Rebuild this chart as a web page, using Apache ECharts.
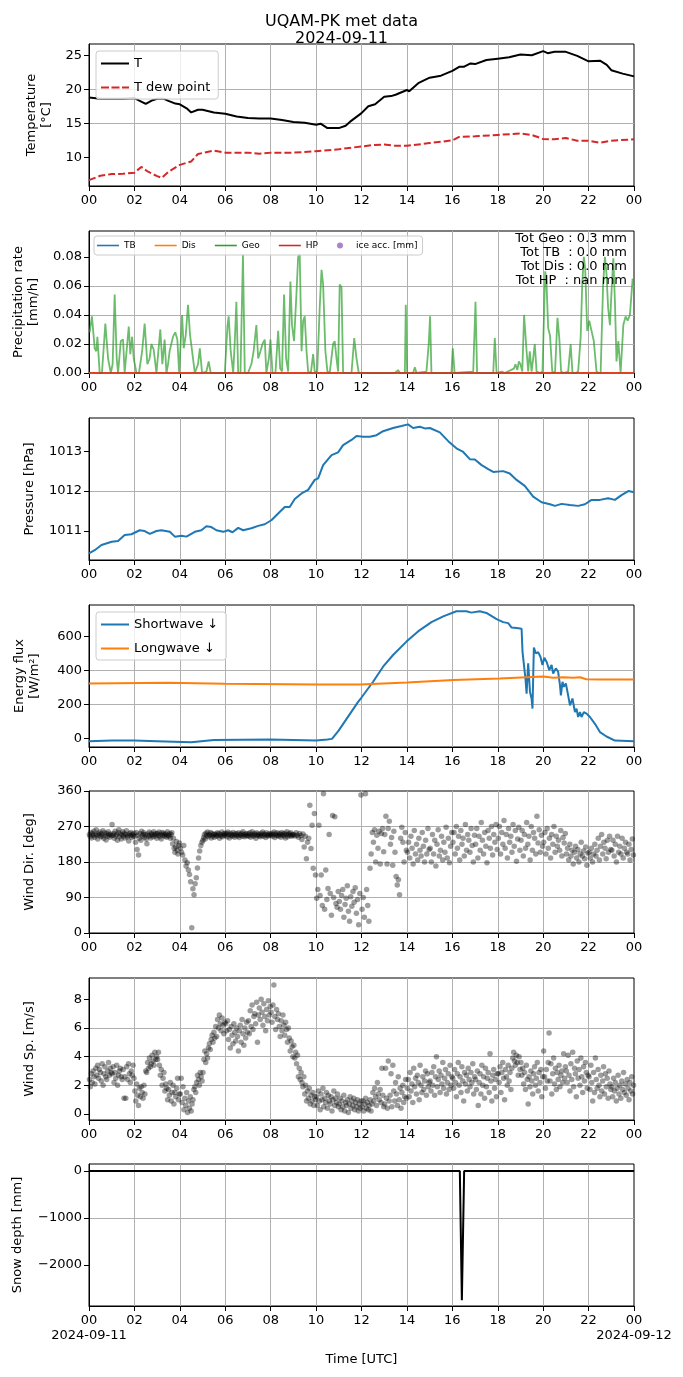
<!DOCTYPE html>
<html>
<head>
<meta charset="utf-8">
<title>UQAM-PK met data</title>
<script src="https://cdn.jsdelivr.net/npm/echarts@6/dist/echarts.min.js"></script>
<style>
  html, body { margin: 0; padding: 0; background: #fff; }
  #chart { width: 683px; height: 1377px; }
</style>
</head>
<body>
<div id="chart"></div>
<script>
// ---- data (hours UTC since 2024-09-11 00:00) ----
var dateLabels = ['2024-09-11', '2024-09-12'];
var dateHours = [0, 24];

// air temperature / dew point [degC]
var tHours = [0,0.5,1,1.5,2,2.3,2.5,2.8,3,3.3,3.5,3.8,4,4.3,4.5,4.8,5,5.5,6,6.5,7,7.5,8,8.5,9,9.5,10,10.2,10.5,11,11.3,11.5,12,12.3,12.6,13,13.3,13.5,14,14.1,14.5,15,15.5,16,16.3,16.5,16.8,17,17.5,18,18.5,19,19.5,20,20.2,20.5,21,21.5,22,22.5,22.8,23,23.5,24];
var tAir = [18.8,18.6,18.6,18.6,18.7,18.2,17.85,18.4,18.6,18.6,18.3,17.9,17.8,17.2,16.6,17.0,17.0,16.6,16.4,16.0,15.8,15.7,15.7,15.5,15.2,15.1,14.8,14.95,14.3,14.3,14.65,15.25,16.5,17.5,17.8,18.9,19.0,19.2,19.9,19.7,20.9,21.7,22.0,22.7,23.3,23.3,23.8,23.7,24.3,24.5,24.7,25.1,25.0,25.6,25.3,25.5,25.5,24.9,24.1,24.2,23.6,22.8,22.3,21.9];
var dewHours = [0,0.5,1,1.5,2,2.3,2.6,3,3.2,3.5,4,4.5,4.8,5.5,6,7,7.5,8,9,10,11,12,12.5,13,13.5,14,15,16,16.3,17,18,19,19.5,20,20.5,21,21.5,22,22.5,23,24];
var tDew = [6.67,7.3,7.55,7.6,7.75,8.6,7.9,7.25,7.0,7.9,8.9,9.4,10.5,11.0,10.7,10.7,10.55,10.7,10.7,10.9,11.2,11.6,11.8,11.9,11.7,11.7,12.1,12.5,13.0,13.1,13.3,13.5,13.3,12.7,12.65,12.85,12.45,12.45,12.15,12.45,12.65];

// precipitation rate [mm/h]
var geoHours = [0.03,0.13,0.25,0.32,0.37,0.47,0.57,0.72,0.84,0.96,1.04,1.13,1.22,1.28,1.40,1.50,1.57,1.65,1.75,1.82,1.90,1.97,2.09,2.20,2.34,2.45,2.57,2.67,2.75,2.85,2.97,3.04,3.14,3.23,3.33,3.41,3.48,3.55,3.70,3.80,3.89,3.97,4.10,4.17,4.26,4.36,4.45,4.54,4.66,4.80,4.88,4.98,5.17,5.27,5.36,5.98,6.10,6.15,6.24,6.35,6.42,6.49,6.57,6.67,6.78,6.86,7.00,7.15,7.25,7.37,7.45,7.55,7.64,7.74,7.81,7.92,7.99,8.08,8.21,8.33,8.42,8.50,8.59,8.68,8.77,8.87,8.94,9.03,9.14,9.21,9.28,9.36,9.43,9.50,9.58,9.65,9.77,9.87,9.94,10.05,10.16,10.24,10.31,10.41,10.50,10.60,10.75,10.82,10.90,10.97,11.04,11.12,11.19,11.34,11.56,11.68,11.78,11.88,
  13.47,13.54,13.61,13.69,13.91,13.95,14.01,14.27,14.35,14.42,14.86,14.96,15.02,15.08,15.96,16.02,16.10,16.92,17.02,17.09,17.80,17.87,17.95,18.17,18.24,18.31,18.71,18.78,18.86,18.93,19.00,19.08,19.16,19.27,19.34,19.41,19.49,19.56,19.63,19.71,19.87,19.97,20.09,20.15,20.22,20.30,20.40,20.52,20.63,20.71,20.79,20.91,21.10,21.21,21.29,21.44,21.54,21.65,21.72,21.79,21.85,21.94,22.03,22.13,22.23,22.35,22.44,22.53,22.64,22.72,22.79,22.86,22.94,23.01,23.09,23.16,23.23,23.31,23.41,23.53,23.63,23.72,23.82,23.94];
var geoRate = [0.028,0.039,0.017,0.015,0.025,0,0,0.034,0.010,0,0.006,0.054,0.010,0,0.022,0.023,0,0.001,0.032,0.013,0.025,0.010,0,0,0.015,0.034,0.006,0.010,0.020,0.016,0,0.001,0.030,0.006,0.023,0,0.006,0.015,0.025,0.028,0.023,0,0.040,0.017,0.026,0.047,0.026,0.015,0,0.006,0.017,0,0.001,0.008,0,0,0.033,0.039,0.015,0,0.022,0.049,0,0,0.082,0,0,0.006,0.015,0.033,0.010,0.015,0.020,0.023,0,0.010,0.023,0,0,0.029,0.003,0.001,0.054,0.010,0.001,0.063,0.033,0.022,0.056,0.080,0.082,0.015,0.036,0.039,0.015,0.001,0,0.013,0.001,0.001,0.045,0.071,0.061,0.015,0.001,0,0.020,0.022,0.010,0.001,0.061,0.059,0,0,0,0.024,0.010,0,
  0,0.001,0.002,0,0,0.047,0,0,0.004,0,0.001,0.020,0.039,0,0,0.017,0,0.001,0.049,0,0,0.024,0,0.001,0.002,0,0.003,0.006,0.002,0.008,0.006,0.001,0.040,0.015,0.001,0.015,0.001,0.010,0.020,0.001,0,0.001,0.070,0.061,0.031,0.026,0.001,0,0.038,0.024,0.001,0,0.001,0.020,0,0,0.001,0.024,0.061,0.080,0.072,0.029,0.036,0.029,0.022,0.001,0,0,0.061,0.080,0.068,0.045,0.033,0.056,0.079,0.049,0.008,0.022,0,0.033,0.039,0.036,0.040,0.065];
var flatHours = [0, 24];
var tbRate = [0, 0];
var disRate = [0, 0];
var hpRate = [0, 0];
var precipTotals = ['Tot Geo : 0.3 mm', 'Tot TB  : 0.0 mm', 'Tot Dis : 0.0 mm', 'Tot HP  : nan mm'];

// pressure [hPa]
var pHours = [0,0.25,0.55,1.0,1.28,1.57,1.87,2.23,2.45,2.68,2.97,3.19,3.56,3.78,4.07,4.29,4.66,4.95,5.17,5.39,5.61,5.91,6.13,6.32,6.57,6.79,7.15,7.45,7.74,8.03,8.33,8.62,8.84,9.06,9.36,9.65,9.94,10.09,10.31,10.68,10.97,11.19,11.56,11.78,12.07,12.37,12.66,12.95,13.39,13.76,14.05,14.27,14.57,14.79,15.01,15.45,15.82,16.18,16.48,16.77,16.99,17.29,17.58,17.8,18.24,18.53,18.83,19.19,19.56,19.93,20.3,20.52,20.81,21.18,21.54,21.84,22.13,22.5,22.86,23.16,23.45,23.75,24];
var pres = [1010.44,1010.52,1010.65,1010.73,1010.75,1010.9,1010.92,1011.02,1011.0,1010.93,1011.0,1011.02,1010.98,1010.86,1010.88,1010.86,1010.98,1011.02,1011.12,1011.1,1011.02,1010.98,1011.02,1010.97,1011.08,1011.02,1011.07,1011.13,1011.17,1011.27,1011.44,1011.6,1011.6,1011.8,1011.94,1012.03,1012.28,1012.32,1012.65,1012.9,1012.97,1013.15,1013.28,1013.38,1013.36,1013.36,1013.4,1013.5,1013.58,1013.63,1013.67,1013.58,1013.61,1013.57,1013.58,1013.47,1013.25,1013.07,1012.98,1012.8,1012.79,1012.65,1012.55,1012.48,1012.5,1012.44,1012.28,1012.13,1011.86,1011.72,1011.67,1011.63,1011.68,1011.65,1011.63,1011.67,1011.78,1011.78,1011.82,1011.78,1011.9,1012.0,1011.97];

// radiation [W/m2]
var swHours = [0,1,2,3,4.5,5.5,8,10,10.5,10.7,11,11.5,11.85,12.0,12.51,12.95,13.39,13.98,14.49,15.08,15.6,16.18,16.62,16.84,17.21,17.5,17.95,18.24,18.46,18.61,18.83,19.05,19.09,19.16,19.22,19.27,19.34,19.42,19.49,19.53,19.59,19.68,19.78,19.88,19.97,20.05,20.15,20.27,20.37,20.44,20.56,20.66,20.74,20.78,20.85,20.91,21.0,21.1,21.18,21.29,21.4,21.47,21.54,21.62,21.69,21.79,21.91,22.06,22.28,22.5,22.79,23.16,24];
var swDown = [-18,-14,-14,-18,-24,-10,-8,-14,-8,-4,46,145,214,240,333,422,491,570,630,685,719,749,749,741,749,739,703,685,679,653,650,646,511,501,352,263,442,273,234,174,535,501,507,481,432,475,451,402,432,382,412,392,313,253,333,303,323,253,194,234,154,174,125,154,125,154,145,125,85,36,10,-14,-18];
var lwHours = [0,3.48,5.98,10.09,11.93,14,16.04,18.09,19.27,20.0,20.44,20.88,21.32,21.62,21.9,22.5,24];
var lwDown = [323,327,321,317,317,329,343,352,360,364,356,360,356,360,348,346,346];

// wind direction [deg], one row per hour, samples evenly spread in the hour
var windDir = [
  [250,245,255,241,252,248,258,243,250,262,247,238,253,249,256,244,251,246,259,240,254,248,236,252,245,257,249,243,251,247],
  [275,248,252,240,258,246,250,235,255,262,244,251,238,249,257,246,253,241,250,259,244,248,233,252,247,255,242,250,246,253],
  [245,230,255,212,248,198,240,252,235,258,246,250,254,243,249,238,226,251,245,256,247,241,253,249,244,257,250,246,252,240],
  [252,248,256,244,250,238,255,247,253,249,245,251,243,257,248,246,252,240,250,254,226,240,215,205,218,232,210,200,222,228],
  [215,205,198,222,185,170,178,160,148,130,13,112,97,125,140,165,190,208,222,230],
  [235,242,250,238,253,247,256,244,250,248,255,241,252,246,250,243,251,249,245,254,247,252,240,250,246,256,244,251,248,253],
  [248,252,244,256,250,241,253,247,250,245,255,249,243,252,247,251,246,254,242,250,248,253,245,257,249,244,251,247,252,246],
  [251,246,254,243,250,257,248,245,252,249,240,254,247,251,246,250,244,253,248,256,245,251,249,242,254,247,250,246,252,248],
  [249,253,245,250,256,242,251,247,254,248,245,252,250,243,255,248,251,246,253,241,250,257,244,249,252,247,254,245,250,248],
  [250,246,254,248,243,252,247,237,251,218,245,188,230,240,324,214,273,164,303,147],
  [88,110,273,95,147,70,353,60,160,85,113,250,100,45,298,90,295,75,65,105],
  [80,60,95,110,40,72,88,120,55,30,92,68,105,78,115,50,85,21,100,350],
  [60,90,40,353,110,70,30,164,200,255,230,262,180,248,215,258,175,252,265,206],
  [250,296,175,265,283,225,242,172,258,205,143,122,135,97,240,268,230,180,255,210],
  [205,230,190,245,215,175,260,200,225,185,240,210,195,255,220,180,235,200,265,212],
  [215,180,250,200,235,170,225,262,195,210,245,185,230,205,268,190,240,178,220,255],
  [230,255,200,270,215,245,185,260,225,240,195,275,210,250,235,205,265,222,180,248],
  [225,265,190,245,210,280,235,200,255,220,178,260,240,215,270,198,250,230,275,212],
  [240,270,200,255,225,285,215,250,190,265,230,245,205,275,220,260,182,238,268,210],
  [235,260,195,250,215,280,225,245,185,270,210,255,240,200,296,228,262,205,248,220],
  [230,255,200,265,215,240,190,250,225,270,205,245,220,235,210,260,195,242,228,252],
  [200,215,185,225,195,210,175,205,220,190,212,180,200,230,195,208,188,218,172,202],
  [205,190,215,180,200,225,195,210,240,185,220,250,200,230,215,188,235,205,245,212],
  [210,235,195,225,180,245,205,220,200,240,190,215,230,205,200,225,185,212,238,198]
];

// wind speed [m/s], one row per hour, samples evenly spread in the hour
var windSpd = [
  [2.4,1.9,2.8,2.2,3.0,2.6,2.1,3.2,2.7,3.4,2.5,3.1,2.9,2.3,3.5,2.0,2.8,3.3,2.6,2.4,3.0,3.6,2.7,3.2,2.9],
  [2.8,3.3,2.2,2.9,2.5,3.4,2.0,2.7,3.0,3.2,2.6,2.4,3.1,1.1,2.6,1.1,3.3,2.4,3.5,2.8,2.2,3.0,2.7,3.4,2.5],
  [1.6,0.9,2.1,1.3,0.6,1.8,1.2,1.9,1.5,1.1,2.0,1.4,3.0,2.9,3.6,3.2,3.9,3.3,3.5,4.1,3.7,3.4,4.3,3.8,4.0],
  [3.8,4.3,3.4,2.7,3.1,2.0,2.5,2.9,1.6,2.1,1.8,1.0,1.7,1.3,2.2,0.9,1.5,2.0,0.7,1.5,1.2,1.8,2.5,1.0,1.4],
  [1.4,2.5,0.8,1.9,0.3,1.1,0.6,1.5,0.1,0.9,0.4,1.2,0.2,0.7,1.0,1.7,1.9,1.5,2.2,2.7,2.4,2.0,2.9,2.6,2.3],
  [2.9,3.8,4.4,3.6,4.2,3.9,4.6,4.9,4.5,5.2,5.5,5.0,5.7,5.3,6.1,5.4,6.6,6.0,6.9,6.3,5.8,6.7,6.2,5.6,6.4],
  [6.3,5.8,6.5,5.2,5.9,4.6,6.1,5.5,4.9,6.3,5.7,5.1,6.0,5.4,4.4,5.8,6.2,5.0,6.6,5.6,4.8,6.0,5.3,6.4,5.7],
  [6.5,5.6,7.2,6.1,7.6,5.9,6.8,7.0,6.3,7.8,5.0,6.9,7.4,6.6,8.0,7.1,6.2,7.7,6.8,5.8,7.3,6.5,7.9,6.9,7.5],
  [7.1,6.4,7.6,9.0,6.8,5.9,7.3,6.6,7.0,6.1,5.4,6.5,5.8,6.9,6.2,5.5,6.4,5.9,5.0,6.0,5.3,4.4,5.1,4.7,4.0],
  [4.8,3.9,4.3,3.5,4.1,2.6,3.2,2.4,2.9,2.2,1.9,2.6,1.4,2.0,0.9,1.6,1.1,1.8,0.7,1.3,0.9,1.5,0.6,1.2,1.0],
  [1.2,0.6,1.6,0.9,0.3,1.4,1.0,1.8,0.5,1.1,0.8,1.5,0.4,1.3,0.9,0.7,1.2,0.2,1.0,1.6,0.6,1.1,0.8,1.4,0.5],
  [0.7,1.1,0.3,0.9,0.5,1.3,0.2,0.8,0.6,1.0,0.1,0.7,1.2,0.4,0.9,0.6,1.1,0.3,0.8,0.5,1.0,0.2,0.7,0.4,0.9],
  [0.5,0.9,0.2,0.7,1.1,0.4,0.8,0.3,0.6,1.0,0.2,0.7,1.5,0.9,1.8,1.2,0.6,2.2,1.4,1.0,1.7,0.8,3.2,1.3,0.5],
  [0.7,3.2,1.1,0.4,3.7,0.9,1.3,2.8,0.5,3.4,1.6,0.9,2.2,1.4,0.6,2.6,1.0,1.8,0.4,1.5,2.0,0.8,1.2,2.4,1.1],
  [1.8,2.4,1.2,2.9,1.6,2.1,0.8,3.2,1.9,2.5,1.4,2.7,2.2,1.0,3.4,2.0,1.5,2.6,1.7,2.3,3.0,1.3,2.8,1.9,2.2],
  [2.3,1.6,2.9,2.0,3.3,1.3,2.6,4.0,1.9,2.4,3.0,1.5,2.7,2.1,3.6,1.8,2.5,3.1,1.4,2.2,2.8,1.7,3.4,2.0,2.6],
  [2.5,1.8,3.1,2.2,1.2,2.8,3.6,2.0,2.6,1.5,3.3,2.3,0.9,2.9,2.1,2.7,1.6,3.2,2.4,1.9,2.9,2.2,3.5,1.4,2.6],
  [2.4,1.7,3.0,0.6,2.2,2.8,1.4,3.4,2.0,2.6,1.1,3.2,1.9,2.5,2.9,1.5,4.2,2.3,0.9,2.7,3.1,1.8,2.4,1.2,2.8],
  [2.8,2.2,3.3,1.5,2.9,3.6,2.5,1.0,3.1,2.6,2.0,3.4,2.3,2.9,1.7,3.2,3.9,4.3,3.7,3.4,4.1,3.6,2.7,4.0,3.1],
  [3.6,2.7,3.2,2.1,2.9,1.7,3.4,2.4,0.7,2.6,1.9,3.0,2.3,1.4,2.8,3.3,2.0,2.5,3.6,1.6,2.9,2.2,3.1,1.2,2.6],
  [4.4,2.6,1.8,3.1,2.3,3.6,5.65,2.3,3.5,1.4,2.8,3.9,2.1,3.2,1.7,2.9,2.4,3.4,1.9,2.7,3.0,2.2,4.2,2.5,3.3],
  [3.0,2.2,4.1,2.7,1.6,3.5,2.4,4.3,1.9,3.2,2.8,1.2,3.7,2.5,3.1,2.0,3.9,2.6,1.5,3.3,2.3,3.6,2.9,1.8,2.7],
  [2.6,1.7,3.4,2.2,0.9,2.9,1.5,3.9,2.4,1.8,3.1,2.0,1.2,2.7,1.6,2.3,3.3,1.4,2.8,1.9,2.5,1.1,3.0,2.1,1.7],
  [1.9,1.2,2.5,1.6,2.2,0.9,1.8,2.7,1.4,2.0,1.1,2.3,1.7,2.9,1.5,2.1,1.3,2.4,1.8,1.0,2.2,1.6,2.6,1.4,2.0]
];

// snow depth [mm]
var snowHours = [0, 16.33, 16.42, 16.52, 24];
var snowDepth = [0, 0, -2750, 0, 0];

// axis settings per panel
var yNames = ['Temperature\n[°C]', 'Precipitation rate\n[mm/h]', 'Pressure [hPa]', 'Energy flux\n[W/m²]', 'Wind Dir. [deg]', 'Wind Sp. [m/s]', 'Snow depth [mm]'];
var yMin = [5.8, 0, 1010.275, -52, 0, -0.42, -2872];
var yMax = [26.65, 0.0978, 1013.83, 786, 360, 9.49, 149];
var yTicks = [[10,15,20,25], [0,0.02,0.04,0.06,0.08], [1011,1012,1013], [0,200,400,600], [0,90,180,270,360], [0,2,4,6,8], [-2000,-1000,0]];
var yNameGap = [35, 48, 52, 47, 52, 52, 64];

var FONT = 'DejaVu Sans';
var panelTop = [44, 231, 418, 605, 791, 978, 1164];
var panelHeight = 142;
// legend icons drawn as thin bars so they look like matplotlib line handles
var SOLID_ICON = 'path://M0,0h28v2h-28z';
var DASH_ICON = 'path://M0,0h8v2h-8zM10.5,0h8v2h-8zM21,0h7v2h-7z';

function pairs(xs, ys) {
  var out = [];
  for (var i = 0; i < xs.length; i++) out.push([xs[i], ys[i]]);
  return out;
}

function hourlyPoints(rows) {
  var out = [];
  for (var h = 0; h < rows.length; h++) {
    var n = rows[h].length;
    for (var k = 0; k < n; k++) out.push([h + (k + 0.5) / n, rows[h][k]]);
  }
  return out;
}

function hourLabel(v) {
  var h = v % 24;
  return (h < 10 ? '0' : '') + h;
}

function yLabel(i) {
  return function(v) {
    if (i === 1) return v.toFixed(2);
    var s = String(Math.round(v));
    return s.replace('-', '\u2212');
  };
}

var chart = echarts.init(document.getElementById('chart'), null, { renderer: 'canvas' });

var grids = [], xAxes = [], yAxes = [];
for (var i = 0; i < 7; i++) {
  grids.push({
    left: 89, width: 545, top: panelTop[i], height: panelHeight,
    show: true, borderColor: '#000', borderWidth: 1, backgroundColor: 'transparent'
  });
  var last = (i === 6);
  xAxes.push({
    type: 'value', gridIndex: i, min: 0, max: 24, interval: 2,
    axisLine: { show: true, onZero: false, lineStyle: { color: '#000', width: 1 } },
    axisTick: { show: true, length: 5, lineStyle: { color: '#000' } },
    axisLabel: {
      color: '#000', fontFamily: FONT, fontSize: 13, margin: 8,
      showMinLabel: true, showMaxLabel: true, formatter: hourLabel
    },
    splitLine: { show: true, showMinLine: false, showMaxLine: false, lineStyle: { color: '#b0b0b0', width: 1 } },
    name: last ? 'Time [UTC]' : '',
    nameLocation: 'middle', nameGap: 47,
    nameTextStyle: { color: '#000', fontFamily: FONT, fontSize: 13 }
  });
  yAxes.push({
    type: 'value', gridIndex: i, min: yMin[i], max: yMax[i],
    axisLine: { show: true, lineStyle: { color: '#000', width: 1 } },
    axisTick: { show: true, length: 5, customValues: yTicks[i], lineStyle: { color: '#000' } },
    axisLabel: { customValues: yTicks[i], color: '#000', fontFamily: FONT, fontSize: 13, margin: 7, formatter: yLabel(i) },
    splitLine: { show: true, showMinLine: false, showMaxLine: false, lineStyle: { color: '#b0b0b0', width: 1 } },
    name: yNames[i], nameLocation: 'middle', nameRotate: 90, nameGap: yNameGap[i],
    nameTextStyle: { color: '#000', fontFamily: FONT, fontSize: 13, lineHeight: 15 }
  });
}
// second bottom axis on the last panel carrying only the date labels
xAxes.push({
  type: 'value', gridIndex: 6, position: 'bottom', min: 0, max: 24,
  axisLine: { show: false }, axisTick: { show: false }, splitLine: { show: false },
  axisLabel: {
    customValues: dateHours, color: '#000', fontFamily: FONT, fontSize: 13, margin: 23,
    showMinLabel: true, showMaxLabel: true,
    formatter: function(v) { return v === dateHours[0] ? dateLabels[0] : dateLabels[1]; }
  }
});

function lineSeries(name, idx, data, color, width, extra) {
  var s = {
    name: name, type: 'line', xAxisIndex: idx, yAxisIndex: idx, data: data,
    symbol: 'none', showSymbol: false, animation: false,
    lineStyle: { color: color, width: width },
    itemStyle: { color: color }
  };
  if (extra) for (var k in extra) s.lineStyle[k] = extra[k];
  return s;
}

var series = [
  lineSeries('T', 0, pairs(tHours, tAir), '#000000', 2),
  lineSeries('T dew point', 0, pairs(dewHours, tDew), '#d62728', 2, { type: [7, 3] }),
  lineSeries('TB', 1, pairs(flatHours, tbRate), '#1f77b4', 2),
  lineSeries('Dis', 1, pairs(flatHours, disRate), '#ff7f0e', 2),
  lineSeries('Geo', 1, pairs(geoHours, geoRate), '#2ca02c', 1.8, { opacity: 0.7 }),
  lineSeries('HP', 1, pairs(flatHours, hpRate), '#d62728', 2, { opacity: 0.7 }),
  {
    name: 'ice acc. [mm]', type: 'scatter', xAxisIndex: 1, yAxisIndex: 1, data: [],
    symbolSize: 5, itemStyle: { color: '#9467bd' }
  },
  lineSeries('Pressure', 2, pairs(pHours, pres), '#1f77b4', 2),
  lineSeries('Shortwave \u2193', 3, pairs(swHours, swDown), '#1f77b4', 2),
  lineSeries('Longwave \u2193', 3, pairs(lwHours, lwDown), '#ff7f0e', 2),
  {
    name: 'Wind Dir', type: 'scatter', xAxisIndex: 4, yAxisIndex: 4, data: hourlyPoints(windDir),
    symbolSize: 5.5, itemStyle: { color: 'rgba(0,0,0,0.48)' }, animation: false
  },
  {
    name: 'Wind Sp', type: 'scatter', xAxisIndex: 5, yAxisIndex: 5, data: hourlyPoints(windSpd),
    symbolSize: 5.5, itemStyle: { color: 'rgba(0,0,0,0.48)' }, animation: false
  },
  lineSeries('Snow depth', 6, pairs(snowHours, snowDepth), '#000000', 2)
];

var legendBox = {
  backgroundColor: 'rgba(255,255,255,0.8)', borderColor: '#cccccc', borderWidth: 1,
  borderRadius: 3, selectedMode: false
};

var option = {
  animation: false,
  backgroundColor: '#ffffff',
  textStyle: { fontFamily: FONT },
  title: {
    text: 'UQAM-PK met data\n2024-09-11', left: 'center', top: 8,
    textStyle: { fontFamily: FONT, fontSize: 16, fontWeight: 'normal', color: '#000', lineHeight: 17 }
  },
  grid: grids,
  xAxis: xAxes,
  yAxis: yAxes,
  legend: [
    echarts.util.extend({
      data: [{ name: 'T', icon: SOLID_ICON }, { name: 'T dew point', icon: DASH_ICON }],
      left: 96, top: 51, orient: 'vertical',
      itemWidth: 28, itemHeight: 10, itemGap: 11, padding: [6, 8, 5, 5],
      textStyle: { fontFamily: FONT, fontSize: 13, color: '#000' }
    }, legendBox),
    echarts.util.extend({
      data: [
        { name: 'TB', icon: SOLID_ICON }, { name: 'Dis', icon: SOLID_ICON },
        { name: 'Geo', icon: SOLID_ICON }, { name: 'HP', icon: SOLID_ICON },
        { name: 'ice acc. [mm]', icon: 'circle' }
      ],
      left: 94, top: 236, orient: 'horizontal',
      itemWidth: 22, itemHeight: 6, itemGap: 19, padding: [5, 5, 5, 3],
      textStyle: { fontFamily: FONT, fontSize: 9, color: '#000' }
    }, legendBox),
    echarts.util.extend({
      data: [{ name: 'Shortwave \u2193', icon: SOLID_ICON }, { name: 'Longwave \u2193', icon: SOLID_ICON }],
      left: 96, top: 612, orient: 'vertical',
      itemWidth: 28, itemHeight: 10, itemGap: 11, padding: [6, 8, 5, 5],
      textStyle: { fontFamily: FONT, fontSize: 13, color: '#000' }
    }, legendBox)
  ],
  graphic: [{
    type: 'text', right: 56, top: 232, z: 100,
    style: {
      text: precipTotals.join('\n'), textAlign: 'right',
      font: '13px "DejaVu Sans"', lineHeight: 14, fill: '#000'
    }
  }],
  series: series
};

chart.setOption(option);
</script>
</body>
</html>
